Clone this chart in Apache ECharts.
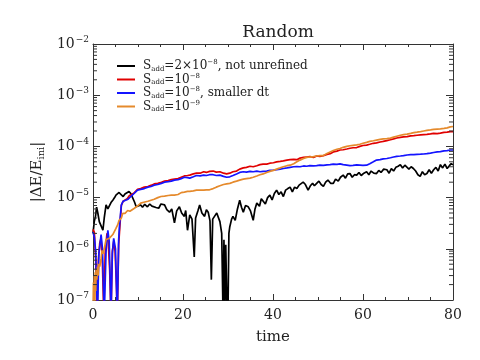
<!DOCTYPE html>
<html>
<head>
<meta charset="utf-8">
<script src="https://cdn.jsdelivr.net/npm/echarts@6/dist/echarts.min.js"></script>
<style>
html, body { margin: 0; padding: 0; background: #fff; }
#chart { width: 480px; height: 360px; }
</style>
</head>
<body>
<div id="chart"></div>
<script>
const FONT = "DejaVu Serif";

// [time, |dE/E_ini|]
const blackData = [
  [0.0,2.0e-6],[0.3,3.5e-6],[0.55,4.3e-6],[0.8,6.5e-6],[1.07,5.0e-6],[1.4,3.4e-6],[1.8,2.8e-6],[2.2,2.3e-6],
  [2.5,4.0e-6],[2.9,7.2e-6],[3.3,6.0e-6],[3.6,6.3e-6],[4.0,8.0e-6],[4.4,8.9e-6],[4.8,1.0e-5],[5.1,1.12e-5],
  [5.5,1.2e-5],[5.8,1.26e-5],[6.2,1.15e-5],[6.7,1.05e-5],[7.1,1.18e-5],[7.5,1.25e-5],[8.0,1.32e-5],[8.4,1.2e-5],
  [8.8,1.1e-5],[9.2,8.3e-6],[9.6,6.6e-6],[10.0,7.0e-6],[10.6,7.2e-6],[11.0,6.5e-6],[11.5,7.4e-6],[12.1,6.6e-6],
  [12.6,7.5e-6],[13.1,6.8e-6],[13.5,7.2e-6],[14.0,6.4e-6],[14.6,6.2e-6],[15.1,7.5e-6],[15.5,6.9e-6],[15.9,7.2e-6],
  [16.4,5.8e-6],[17.0,5.2e-6],[17.5,6.0e-6],[18.1,3.2e-6],[18.6,5.5e-6],[19.2,6.6e-6],[19.7,5.0e-6],[20.3,4.3e-6],
  [20.6,5.6e-6],[21.0,2.3e-6],[21.5,4.6e-6],[22.0,3.8e-6],[22.5,6.9e-7],[22.8,4.0e-6],[23.3,5.5e-6],[23.7,7.2e-6],
  [24.2,5.0e-6],[24.8,4.3e-6],[25.2,5.8e-6],[25.6,5.2e-6],[26.0,3.5e-6],[26.3,2.5e-7],[26.6,3.8e-6],[27.0,4.3e-6],
  [27.5,5.0e-6],[28.2,3.4e-6],[28.6,2.0e-6],[28.9,5e-8],[29.1,1.5e-6],[29.3,5e-8],[29.5,1.2e-6],[29.8,5e-8],
  [30.0,6e-8],[30.2,2.0e-6],[30.4,2.7e-6],[30.8,3.8e-6],[31.1,4.3e-6],[31.6,3.6e-6],[32.1,6.0e-6],[32.6,8.9e-6],
  [33.0,6.5e-6],[33.4,5.2e-6],[33.9,7.0e-6],[34.5,6.6e-6],[35.0,5.5e-6],[35.6,3.6e-6],[36.0,6.0e-6],[36.4,7.8e-6],
  [37.0,6.8e-6],[37.4,9.5e-6],[37.8,8.9e-6],[38.3,7.5e-6],[38.8,1.0e-5],[39.3,1.12e-5],[39.8,9.0e-6],[40.3,1.2e-5],
  [40.8,1.4e-5],[41.3,1.15e-5],[41.8,1.3e-5],[42.3,1.05e-5],[42.8,1.4e-5],[43.3,1.5e-5],[43.8,1.6e-5],[44.3,1.3e-5],
  [44.8,1.6e-5],[45.3,1.5e-5],[45.8,1.75e-5],[46.2,1.6e-5],[46.7,2.0e-5],[47.2,1.8e-5],[47.8,1.4e-5],[48.3,1.7e-5],
  [48.8,1.9e-5],[49.2,1.7e-5],[49.7,1.9e-5],[50.2,2.1e-5],[50.7,1.8e-5],[51.2,1.66e-5],[51.7,2.0e-5],[52.2,2.2e-5],
  [52.8,1.9e-5],[53.4,1.9e-5],[53.9,2.3e-5],[54.5,2.1e-5],[55.0,2.5e-5],[55.6,2.75e-5],[56.1,2.4e-5],[56.6,2.9e-5],
  [57.1,2.95e-5],[57.6,2.5e-5],[58.1,2.8e-5],[58.6,2.75e-5],[59.1,3.1e-5],[59.6,2.7e-5],[60.2,3.0e-5],[60.8,3.2e-5],
  [61.3,2.8e-5],[61.8,3.3e-5],[62.4,3.0e-5],[63.0,2.95e-5],[63.5,3.4e-5],[64.0,3.1e-5],[64.6,3.6e-5],[65.3,3.5e-5],
  [65.8,3.0e-5],[66.3,3.7e-5],[66.8,3.3e-5],[67.3,3.9e-5],[67.8,4.1e-5],[68.3,4.4e-5],[68.8,3.8e-5],[69.3,4.3e-5],
  [69.7,4.1e-5],[70.2,3.6e-5],[70.7,4.0e-5],[71.2,3.7e-5],[71.7,3.3e-5],[72.2,2.8e-5],[72.7,2.6e-5],[73.2,3.2e-5],
  [73.7,2.8e-5],[74.2,2.95e-5],[74.7,3.5e-5],[75.2,3.0e-5],[75.7,3.5e-5],[76.2,3.9e-5],[76.7,3.3e-5],[77.2,4.4e-5],
  [77.7,3.8e-5],[78.2,4.5e-5],[78.7,3.7e-5],[79.2,4.2e-5],[79.6,4.6e-5],[80.0,4.4e-5]
];

const redData = [
  [0.0,2.4e-6],[0.3,2.1e-6],[0.6,6e-7],[0.9,5e-8],[1.2,6e-7],[1.5,1.3e-6],[1.8,1.6e-6],[2.1,5e-7],[2.4,5e-8],
  [2.7,8e-7],[3.1,2.0e-6],[3.4,1.3e-6],[3.7,4e-7],[4.0,5e-8],[4.3,9e-7],[4.6,1.4e-6],[4.9,9e-7],[5.2,2e-7],
  [5.4,5e-8],[5.7,1.2e-6],[6.0,3.0e-6],[6.3,7.0e-6],[6.7,8.5e-6],[7.1,9.2e-6],[7.6,9.5e-6],[8.1,1.1e-5],
  [8.6,1.15e-5],[9.2,1.25e-5],[9.9,1.45e-5],[10.6,1.5e-5],[11.4,1.6e-5],[12.2,1.65e-5],[13.0,1.75e-5],[13.6,1.85e-5],
  [14.4,1.9e-5],[15.2,2.0e-5],[15.9,2.1e-5],[16.7,2.15e-5],[17.4,2.25e-5],[18.1,2.3e-5],[18.9,2.35e-5],[19.6,2.5e-5],
  [20.3,2.65e-5],[21.0,2.7e-5],[21.5,2.75e-5],[22.3,2.9e-5],[23.0,3.0e-5],[23.8,3.0e-5],[24.6,3.2e-5],[25.2,3.1e-5],
  [25.9,3.25e-5],[26.7,3.3e-5],[27.4,3.15e-5],[28.2,3.2e-5],[29.0,3.0e-5],[29.7,2.9e-5],[30.4,3.0e-5],[31.1,3.2e-5],
  [31.9,3.3e-5],[32.6,3.6e-5],[33.4,3.8e-5],[34.1,3.9e-5],[34.9,4.1e-5],[35.6,4.0e-5],[36.4,4.2e-5],[37.1,4.4e-5],
  [37.8,4.5e-5],[38.6,4.5e-5],[39.3,4.7e-5],[40.1,4.8e-5],[40.8,5.0e-5],[41.6,5.1e-5],[42.3,5.2e-5],[43.1,5.4e-5],
  [43.8,5.5e-5],[44.6,5.6e-5],[45.3,5.5e-5],[46.0,5.9e-5],[46.8,6.1e-5],[47.5,6.2e-5],[48.2,6.3e-5],[49.0,6.1e-5],
  [49.7,6.5e-5],[50.4,6.4e-5],[51.2,6.6e-5],[52.0,7.0e-5],[52.7,7.2e-5],[53.4,7.8e-5],[54.2,8.1e-5],[54.9,8.5e-5],
  [55.6,8.6e-5],[56.4,8.9e-5],[57.1,9.2e-5],[57.8,9.4e-5],[58.6,9.5e-5],[59.3,1.0e-4],[60.0,1.04e-4],[60.8,1.06e-4],
  [61.5,1.1e-4],[62.3,1.15e-4],[63.0,1.17e-4],[63.8,1.22e-4],[64.5,1.25e-4],[65.3,1.3e-4],[66.1,1.35e-4],[66.8,1.4e-4],
  [67.5,1.46e-4],[68.3,1.5e-4],[69.0,1.53e-4],[69.8,1.55e-4],[70.6,1.6e-4],[71.3,1.62e-4],[72.0,1.65e-4],[72.8,1.68e-4],
  [73.5,1.7e-4],[74.2,1.72e-4],[75.0,1.75e-4],[75.7,1.8e-4],[76.5,1.78e-4],[77.2,1.82e-4],[78.0,1.88e-4],[78.7,1.9e-4],
  [79.4,1.95e-4],[80.0,1.95e-4]
];

const blueData = [
  [0.0,2.1e-6],[0.3,1.7e-6],[0.6,8.7e-7],[0.8,2e-7],[1.0,5e-8],[1.3,8e-7],[1.8,1.9e-6],[2.1,1.0e-6],[2.3,2e-7],
  [2.5,5e-8],[2.9,9e-7],[3.3,2.3e-6],[3.6,1.4e-6],[3.8,3e-7],[4.0,5e-8],[4.3,8e-7],[4.6,1.6e-6],[5.0,1.0e-6],
  [5.2,2e-7],[5.4,5e-8],[5.7,1.5e-6],[5.9,2.9e-6],[6.3,7.2e-6],[6.7,8.5e-6],[7.1,8.9e-6],[7.8,9.3e-6],[8.4,1.05e-5],
  [8.9,1.15e-5],[9.3,1.2e-5],[9.9,1.4e-5],[10.6,1.45e-5],[11.4,1.5e-5],[12.2,1.6e-5],[12.9,1.65e-5],[13.6,1.75e-5],
  [14.4,1.8e-5],[15.2,1.9e-5],[15.9,2.0e-5],[16.7,2.05e-5],[17.4,2.1e-5],[18.1,2.2e-5],[18.9,2.25e-5],[19.6,2.35e-5],
  [20.3,2.5e-5],[21.0,2.45e-5],[21.5,2.4e-5],[22.3,2.55e-5],[23.0,2.7e-5],[23.8,2.65e-5],[24.6,2.75e-5],[25.2,2.7e-5],
  [25.9,2.8e-5],[26.7,2.8e-5],[27.4,2.7e-5],[28.2,2.75e-5],[29.0,2.6e-5],[29.7,2.5e-5],[30.4,2.55e-5],[31.1,2.7e-5],
  [31.9,2.9e-5],[32.6,3.1e-5],[33.4,3.2e-5],[34.1,3.15e-5],[34.9,3.25e-5],[35.6,3.2e-5],[36.4,3.3e-5],[37.1,3.2e-5],
  [37.8,3.25e-5],[38.6,3.3e-5],[39.3,3.4e-5],[40.1,3.45e-5],[40.8,3.5e-5],[41.6,3.6e-5],[42.3,3.7e-5],[43.1,3.8e-5],
  [43.8,3.9e-5],[44.6,4.0e-5],[45.3,4.05e-5],[46.0,4.0e-5],[46.8,4.15e-5],[47.5,4.1e-5],[48.2,4.2e-5],[49.0,4.15e-5],
  [49.7,4.2e-5],[50.4,4.3e-5],[51.2,4.25e-5],[52.0,4.35e-5],[52.7,4.4e-5],[53.4,4.5e-5],[54.2,4.45e-5],[54.9,4.55e-5],
  [55.6,4.4e-5],[56.4,4.3e-5],[57.1,4.2e-5],[57.8,4.25e-5],[58.6,4.35e-5],[59.3,4.3e-5],[60.0,4.25e-5],[60.8,4.3e-5],
  [61.5,4.6e-5],[62.3,5.0e-5],[63.0,5.4e-5],[63.8,5.5e-5],[64.5,5.7e-5],[65.3,5.8e-5],[66.1,6.0e-5],[66.8,6.2e-5],
  [67.5,6.4e-5],[68.3,6.5e-5],[69.0,6.6e-5],[69.8,6.8e-5],[70.6,6.9e-5],[71.3,6.9e-5],[72.0,7.0e-5],[72.8,7.05e-5],
  [73.5,7.1e-5],[74.2,7.2e-5],[75.0,7.4e-5],[75.7,7.6e-5],[76.5,7.8e-5],[77.2,7.9e-5],[78.0,8.2e-5],[78.7,8.3e-5],
  [79.4,8.5e-5],[80.0,8.5e-5]
];

const orangeData = [
  [0.0,5e-8],[0.1,2.2e-7],[0.2,6e-8],[0.3,3e-7],[0.4,8e-8],[0.5,3.5e-7],[0.6,1.5e-7],[0.7,4e-7],[0.85,2.5e-7],
  [1.0,4.5e-7],[1.15,3e-7],[1.3,5.1e-7],[1.5,4.5e-7],[1.8,6.5e-7],[2.0,9.3e-7],[2.2,8e-7],[2.5,1.0e-6],[2.9,1.5e-6],
  [3.3,1.4e-6],[3.6,1.6e-6],[4.0,1.75e-6],[4.4,1.9e-6],[4.8,2.0e-6],[5.1,2.5e-6],[5.5,2.95e-6],[5.8,3.6e-6],
  [6.3,4.0e-6],[6.6,4.9e-6],[7.1,4.9e-6],[7.7,5.6e-6],[8.2,5.4e-6],[9.2,6.2e-6],[10.0,7.0e-6],[10.6,7.8e-6],
  [11.5,8.2e-6],[12.2,8.5e-6],[12.9,8.9e-6],[13.6,9.3e-6],[14.4,1.0e-5],[15.1,1.05e-5],[15.9,1.07e-5],[16.7,1.1e-5],
  [17.4,1.12e-5],[18.1,1.12e-5],[18.9,1.15e-5],[19.6,1.25e-5],[20.3,1.28e-5],[21.0,1.32e-5],[21.5,1.32e-5],[22.3,1.35e-5],
  [23.0,1.4e-5],[23.8,1.4e-5],[24.6,1.4e-5],[25.2,1.42e-5],[25.9,1.42e-5],[26.7,1.5e-5],[27.4,1.6e-5],[28.2,1.7e-5],
  [29.0,1.8e-5],[29.7,1.85e-5],[30.4,1.9e-5],[31.1,2.0e-5],[31.9,2.1e-5],[32.6,2.2e-5],[33.4,2.3e-5],[34.1,2.35e-5],
  [34.9,2.4e-5],[35.6,2.5e-5],[36.4,2.65e-5],[37.1,2.8e-5],[37.8,2.9e-5],[38.6,3.1e-5],[39.3,3.25e-5],[40.1,3.4e-5],
  [40.8,3.6e-5],[41.6,3.8e-5],[42.3,4.0e-5],[43.1,4.2e-5],[43.8,4.3e-5],[44.6,4.6e-5],[45.3,5.0e-5],[46.0,5.4e-5],
  [46.8,5.8e-5],[47.5,6.1e-5],[48.2,6.2e-5],[49.0,6.3e-5],[49.7,6.5e-5],[50.4,6.6e-5],[51.2,6.6e-5],[52.0,7.3e-5],
  [52.7,7.8e-5],[53.4,8.3e-5],[54.2,8.8e-5],[54.9,9.1e-5],[55.6,9.6e-5],[56.4,1.0e-4],[57.1,1.03e-4],[57.8,1.05e-4],
  [58.6,1.07e-4],[59.3,1.1e-4],[60.0,1.15e-4],[60.8,1.2e-4],[61.5,1.25e-4],[62.3,1.29e-4],[63.0,1.33e-4],[63.8,1.37e-4],
  [64.5,1.4e-4],[65.3,1.42e-4],[66.1,1.45e-4],[66.8,1.52e-4],[67.5,1.58e-4],[68.3,1.65e-4],[69.0,1.7e-4],[69.8,1.74e-4],
  [70.6,1.8e-4],[71.3,1.86e-4],[72.0,1.9e-4],[72.8,1.95e-4],[73.5,2.0e-4],[74.2,2.05e-4],[75.0,2.1e-4],[75.7,2.15e-4],
  [76.5,2.18e-4],[77.2,2.2e-4],[78.0,2.25e-4],[78.7,2.3e-4],[79.4,2.4e-4],[80.0,2.45e-4]
];

const seriesNames = ["2e-8 not unrefined", "1e-8", "1e-8 smaller dt", "1e-9"];
const seriesColors = ["#000000", "#e00000", "#1414ff", "#e58a2c"];
const legendText = [
  "{n|S}{sub|add}{n|=2×10}{sup|−8}{n|, not unrefined}",
  "{n|S}{sub|add}{n|=10}{sup|−8}",
  "{n|S}{sub|add}{n|=10}{sup|−8}{n|, smaller dt}",
  "{n|S}{sub|add}{n|=10}{sup|−9}"
];
const xTicks = [0, 20, 40, 60, 80];

// minor log tick positions 2..9 x 10^n
const minorLogTicks = [];
for (let e = -7; e < -2; e++) for (let k = 2; k <= 9; k++) minorLogTicks.push(k * Math.pow(10, e));

const axisColor = "#333";
const chart = echarts.init(document.getElementById("chart"));

function lineSeries(name, data, color) {
  return {
    name, type: "line", data, showSymbol: false, symbol: "none",
    lineStyle: { color, width: 1.7 }, itemStyle: { color },
    clip: true, animation: false
  };
}

const option = {
  backgroundColor: "#fff",
  animation: false,
  title: {
    text: "Random", left: 273, top: 19, textAlign: "center",
    textStyle: { fontFamily: FONT, fontSize: 17, fontWeight: "normal", color: "#222" }
  },
  grid: { left: 93, right: 27, top: 44, bottom: 60, outerBoundsMode: "none" },
  legend: {
    orient: "vertical", left: 112, top: 54, itemWidth: 18, itemHeight: 2, itemGap: 0,
    icon: "rect", selectedMode: false,
    data: seriesNames,
    formatter: name => legendText[seriesNames.indexOf(name)],
    textStyle: {
      fontFamily: FONT, fontSize: 12, color: "#222", padding: [0, 0, 0, 3],
      rich: {
        n: { fontFamily: FONT, fontSize: 12, color: "#222", lineHeight: 12 },
        sub: { fontFamily: FONT, fontSize: 7, color: "#222", padding: [6, 0, 0, 0] },
        sup: { fontFamily: FONT, fontSize: 7, color: "#222", padding: [0, 0, 7, 0] }
      }
    }
  },
  xAxis: [
    {
      type: "value", min: 0, max: 80, interval: 20, position: "bottom",
      axisLine: { show: true, onZero: false, lineStyle: { color: axisColor, width: 1 } },
      axisTick: { inside: true, length: 6, lineStyle: { color: axisColor } },
      minorTick: { show: true, splitNumber: 4, length: 3, lineStyle: { color: axisColor } },
      splitLine: { show: false },
      axisLabel: {
        margin: 8, color: "#222", fontFamily: FONT, fontSize: 14,
        customValues: xTicks
      },
      name: "time", nameLocation: "middle", nameGap: 30,
      nameTextStyle: { fontFamily: FONT, fontSize: 15, color: "#222" }
    },
    {
      type: "value", min: 0, max: 80, interval: 20, position: "top",
      axisLine: { show: true, onZero: false, lineStyle: { color: axisColor, width: 1 } },
      axisTick: { inside: true, length: 6, lineStyle: { color: axisColor } },
      minorTick: { show: true, splitNumber: 4, length: 3, lineStyle: { color: axisColor } },
      splitLine: { show: false },
      axisLabel: { show: false }
    }
  ],
  yAxis: [
    {
      type: "log", logBase: 10, min: 1e-7, max: 1e-2, position: "left",
      axisLine: { show: true, onZero: false, lineStyle: { color: axisColor, width: 1 } },
      axisTick: { inside: true, length: 7, lineStyle: { color: axisColor } },
      splitLine: { show: false },
      axisLabel: {
        margin: 4,
        formatter: v => {
          const e = Math.round(Math.log10(v));
          return "{b|10}{e|" + (e < 0 ? "−" : "") + Math.abs(e) + "}";
        },
        rich: {
          b: { fontFamily: FONT, fontSize: 14, color: "#222" },
          e: { fontFamily: FONT, fontSize: 9, color: "#222", padding: [0, 0, 9, 1] }
        }
      },
      name: "{n||ΔE/E}{s|ini}{n||}", nameLocation: "middle", nameRotate: 90, nameGap: 40,
      nameTextStyle: {
        fontFamily: FONT, fontSize: 15, color: "#222",
        rich: {
          n: { fontFamily: FONT, fontSize: 15, color: "#222" },
          s: { fontFamily: FONT, fontSize: 10, color: "#222", padding: [7, 0, 0, 0] }
        }
      }
    },
    {
      type: "log", logBase: 10, min: 1e-7, max: 1e-2, position: "right",
      axisLine: { show: true, onZero: false, lineStyle: { color: axisColor, width: 1 } },
      axisTick: { inside: true, length: 7, lineStyle: { color: axisColor } },
      splitLine: { show: false },
      axisLabel: { show: false }
    }
  ],
  series: [
    {
      type: "custom", silent: true, z: 5,
      data: minorLogTicks.map(v => [0, v]),
      encode: { x: 0, y: 1 },
      renderItem: (params, api) => {
        const v = api.value(1);
        const l = api.coord([0, v]);
        const r = api.coord([80, v]);
        return {
          type: "group",
          children: [
            { type: "line", shape: { x1: l[0], y1: l[1], x2: l[0] + 4, y2: l[1] }, style: { stroke: axisColor, lineWidth: 1 } },
            { type: "line", shape: { x1: r[0] - 4, y1: r[1], x2: r[0], y2: r[1] }, style: { stroke: axisColor, lineWidth: 1 } }
          ]
        };
      }
    },
    lineSeries(seriesNames[0], blackData, seriesColors[0]),
    lineSeries(seriesNames[1], redData, seriesColors[1]),
    lineSeries(seriesNames[2], blueData, seriesColors[2]),
    lineSeries(seriesNames[3], orangeData, seriesColors[3])
  ]
};

chart.setOption(option);
window.addEventListener("resize", () => chart.resize());
</script>
</body>
</html>
